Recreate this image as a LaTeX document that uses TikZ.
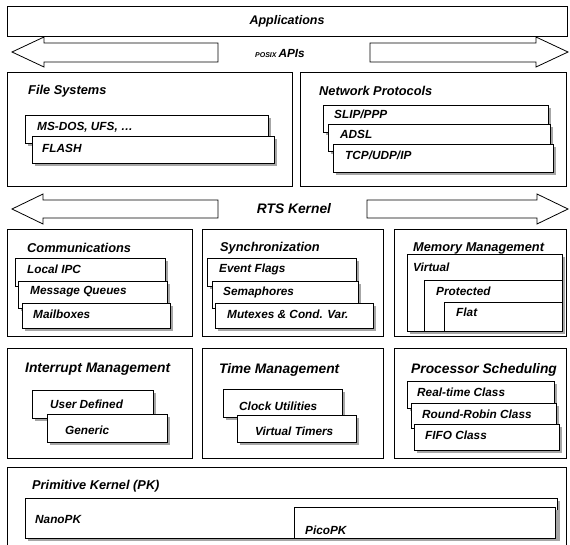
\documentclass[tikz,border=0pt]{standalone}
\usepackage{fontspec}
\setmainfont{Liberation Sans}
\usetikzlibrary{shadows}
\begin{document}
\begin{tikzpicture}[x=1pt,y=-1pt,
    layer/.style={draw, line width=0.8pt},
    item/.style={draw, fill=white, line width=0.7pt,
        drop shadow={shadow xshift=3pt, shadow yshift=-3pt, fill=black!35, opacity=1}},
    bigarrow/.style={draw, fill=white, line width=0.8pt, line join=miter},
    ttl/.style={anchor=west, inner sep=0pt, font=\bfseries\itshape\fontsize{12.8}{15}\selectfont},
    bigttl/.style={ttl, font=\bfseries\itshape\fontsize{13.8}{16}\selectfont},
    lbl/.style={anchor=west, inner sep=0pt, font=\bfseries\itshape\fontsize{11.8}{14}\selectfont}]

    \useasboundingbox (0,0) rectangle (570,544);

    % Applications
    \draw[layer] (7,6) rectangle (567,36);
    \node[lbl, anchor=center, font=\bfseries\itshape\fontsize{12.5}{14}\selectfont] (apps) at (287,21) {Applications};

    % POSIX APIs arrows
    \draw[bigarrow] (12,52) -- (44,37) -- (44,43) -- (218,43) -- (218,62) -- (44,62) -- (44,67) -- cycle;
    \draw[bigarrow] (370,43) -- (536,43) -- (536,37) -- (568,52) -- (536,67) -- (536,62) -- (370,62) -- cycle;
    \node[lbl, anchor=center] (posix) at (280,53) {{\fontsize{7}{8}\selectfont POSIX}\,APIs};

    % File Systems
    \draw[layer] (7,72) rectangle (292,186);
    \node[ttl] (fs) at (28,91) {File Systems};
    \draw[item] (25,115) rectangle (268,143);
    \node[lbl] (msdos) at (37,127) {MS-DOS, UFS, \dots};
    \draw[item] (32,136) rectangle (274,163);
    \node[lbl] (flash) at (42,148) {FLASH};

    % Network Protocols
    \draw[layer] (300,72) rectangle (566,186);
    \node[ttl] (net) at (319,91) {Network Protocols};
    \draw[item] (323,105) rectangle (548,132);
    \node[lbl] (slip) at (334,114) {SLIP/PPP};
    \draw[item] (328,124) rectangle (550,151);
    \node[lbl] (adsl) at (340,134) {ADSL};
    \draw[item] (333,144) rectangle (553,172);
    \node[lbl] (tcp) at (345,155) {TCP/UDP/IP};

    % RTS Kernel arrows
    \draw[bigarrow] (12,209) -- (43,194) -- (43,200) -- (218,200) -- (218,218) -- (43,218) -- (43,224) -- cycle;
    \draw[bigarrow] (367,200) -- (537,200) -- (537,194) -- (568,209) -- (537,224) -- (537,218) -- (367,218) -- cycle;
    \node[bigttl, anchor=center] (rts) at (294,209) {RTS Kernel};

    % Communications
    \draw[layer] (7,229) rectangle (192,336);
    \node[ttl] (comm) at (27,248) {Communications};
    \draw[item] (15,258) rectangle (165,286);
    \node[lbl] (ipc) at (27,269) {Local IPC};
    \draw[item] (18,281) rectangle (167,308);
    \node[lbl] (mq) at (30,292) {Message Queues};
    \draw[item] (22,303) rectangle (170,328);
    \node[lbl] (mbox) at (33,314) {Mailboxes};

    % Synchronization
    \draw[layer] (202,229) rectangle (383,336);
    \node[ttl] (sync) at (220,248) {Synchronization};
    \draw[item] (207,258) rectangle (356,286);
    \node[lbl] (flags) at (219,269) {Event Flags};
    \draw[item] (212,281) rectangle (358,308);
    \node[lbl] (sem) at (223,292) {Semaphores};
    \draw[item] (215,303) rectangle (373,328);
    \node[lbl] (mutex) at (227,314) {Mutexes \& Cond. Var.};

    % Memory Management
    \draw[layer] (394,229) rectangle (566,336);
    \node[ttl] (mem) at (413,248) {Memory Management};
    \draw[item] (407,254) rectangle (562,331);
    \node[lbl] (virt) at (413,267) {Virtual};
    \draw[item] (424,280) rectangle (562,331);
    \node[lbl] (prot) at (436,291) {Protected};
    \draw[item] (444,302) rectangle (562,331);
    \node[lbl] (flat) at (456,312) {Flat};

    % Interrupt Management
    \draw[layer] (7,348) rectangle (192,458);
    \node[bigttl] (intr) at (25,369) {Interrupt Management};
    \draw[item] (32,390) rectangle (153,418);
    \node[lbl] (user) at (50,404) {User Defined};
    \draw[item] (47,414) rectangle (167,442);
    \node[lbl] (gen) at (65,430) {Generic};

    % Time Management
    \draw[layer] (202,348) rectangle (383,458);
    \node[bigttl] (time) at (219,370) {Time Management};
    \draw[item] (223,389) rectangle (342,417);
    \node[lbl] (clock) at (239,406) {Clock Utilities};
    \draw[item] (237,415) rectangle (356,442);
    \node[lbl] (vtim) at (255,431) {Virtual Timers};

    % Processor Scheduling
    \draw[layer] (394,348) rectangle (566,458);
    \node[bigttl] (sched) at (411,370) {Processor Scheduling};
    \draw[item] (407,381) rectangle (554,408);
    \node[lbl] (rt) at (417,392) {Real-time Class};
    \draw[item] (411,403) rectangle (556,428);
    \node[lbl] (rr) at (422,414) {Round-Robin Class};
    \draw[item] (414,424) rectangle (559,450);
    \node[lbl] (fifo) at (425,435) {FIFO Class};

    % Primitive Kernel
    \draw[layer] (7,550) -- (7,467) -- (566,467) -- (566,550);
    \node[ttl] (pk) at (32,486) {Primitive Kernel (PK)};
    \draw[item] (25,498) rectangle (557,538);
    \node[lbl] (nano) at (35,519) {NanoPK};
    \draw[item] (294,507) rectangle (555,538);
    \node[lbl] (pico) at (305,530) {PicoPK};
\end{tikzpicture}
\end{document}
